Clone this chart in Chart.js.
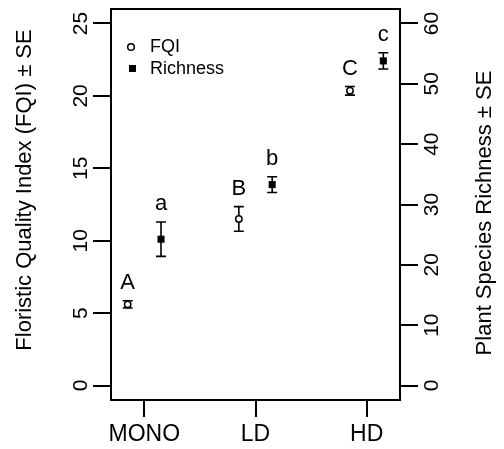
<!DOCTYPE html>
<html>
<head>
<meta charset="utf-8">
<script src="https://cdn.jsdelivr.net/npm/chart.js@4"></script>
<style>
	html, body { margin: 0; padding: 0; background: #fff; }
	#wrap { width: 504px; height: 449px; position: relative; }
</style>
</head>
<body>
<div id="wrap"><canvas id="chart"></canvas></div>
<script>
const categories = ['MONO', 'LD', 'HD']
const fqiMean = [5.6, 11.5, 20.35]
const fqiSE = [0.25, 0.85, 0.3]
const richMean = [24.25, 33.3, 53.8]
const richSE = [2.85, 1.3, 1.35]
const fqiLetters = ['A', 'B', 'C']
const richLetters = ['a', 'b', 'c']
const leftTicks = [0, 5, 10, 15, 20, 25]
const rightTicks = [0, 10, 20, 30, 40, 50, 60]

const FONT = '"Liberation Sans", Arial, Helvetica, sans-serif'
const shift = 0.15

function rotText(ctx, txt, x, y) {
	ctx.save()
	ctx.translate(x, y)
	ctx.rotate(-Math.PI / 2)
	ctx.fillText(txt, 0, 0)
	ctx.restore()
}

// error bars under the points
const errorBars = {
	id: 'errorBars',
	beforeDatasetsDraw(chart) {
		const ctx = chart.ctx
		ctx.save()
		ctx.strokeStyle = '#000'
		ctx.lineWidth = 1.6
		chart.data.datasets.forEach((ds, d) => {
			const meta = chart.getDatasetMeta(d)
			const sc = chart.scales[ds.yAxisID]
			ds.means.forEach((m, i) => {
				const x = meta.data[i].x
				const yt = sc.getPixelForValue(m + ds.se[i])
				const yb = sc.getPixelForValue(m - ds.se[i])
				ctx.beginPath()
				ctx.moveTo(x, yt); ctx.lineTo(x, yb)
				ctx.moveTo(x - 5, yt); ctx.lineTo(x + 5, yt)
				ctx.moveTo(x - 5, yb); ctx.lineTo(x + 5, yb)
				ctx.stroke()
			})
		})
		ctx.restore()
	},
	afterDatasetsDraw(chart) {
		const ctx = chart.ctx
		ctx.save()
		ctx.fillStyle = '#000'
		ctx.font = '22px ' + FONT
		ctx.textAlign = 'center'
		ctx.textBaseline = 'middle'
		chart.data.datasets.forEach((ds, d) => {
			const meta = chart.getDatasetMeta(d)
			const sc = chart.scales[ds.yAxisID]
			ds.letters.forEach((l, i) => {
				const x = meta.data[i].x
				const yt = sc.getPixelForValue(ds.means[i] + ds.se[i])
				ctx.fillText(l, x, yt - 18)
			})
		})
		ctx.restore()
	}
}

// box, rotated tick labels, axis titles, legend
const frame = {
	id: 'frame',
	afterDraw(chart) {
		const { ctx, chartArea: a, scales } = chart
		ctx.save()
		ctx.strokeStyle = '#000'
		ctx.lineWidth = 2
		ctx.strokeRect(a.left, a.top, a.right - a.left, a.bottom - a.top)

		ctx.fillStyle = '#000'
		ctx.textAlign = 'center'
		ctx.textBaseline = 'middle'
		ctx.font = '21px ' + FONT
		leftTicks.forEach(v => rotText(ctx, String(v), a.left - 30, scales.y.getPixelForValue(v)))
		rightTicks.forEach(v => rotText(ctx, String(v), a.right + 32, scales.y2.getPixelForValue(v)))

		ctx.font = '23px ' + FONT
		categories.forEach((c, i) => ctx.fillText(c, scales.x.getPixelForValue(i + 1), a.bottom + 35))

		ctx.font = '22px ' + FONT
		rotText(ctx, 'Floristic Quality Index (FQI) \u00b1 SE', 25, 190)
		rotText(ctx, 'Plant Species Richness \u00b1 SE', a.right + 85, 213)

		// legend
		ctx.textAlign = 'left'
		ctx.font = '18px ' + FONT
		ctx.lineWidth = 1.5
		ctx.beginPath()
		ctx.arc(a.left + 20, a.top + 38, 3.3, 0, Math.PI * 2)
		ctx.stroke()
		ctx.fillRect(a.left + 18, a.top + 56, 7, 7)
		ctx.fillText('FQI', a.left + 39, a.top + 38)
		ctx.fillText('Richness', a.left + 39, a.top + 60)
		ctx.restore()
	}
}

const fixTicks = vals => scale => { scale.ticks = vals.map(v => ({ value: v })) }
const tickGrid = { display: true, drawOnChartArea: false, drawTicks: true, tickLength: 18, color: '#000', lineWidth: 2 }

new Chart(document.getElementById('chart'), {
	type: 'scatter',
	data: {
		datasets: [
			{
				label: 'FQI',
				data: fqiMean.map((v, i) => ({ x: i + 1 - shift, y: v })),
				means: fqiMean, se: fqiSE, letters: fqiLetters,
				yAxisID: 'y',
				pointStyle: 'circle',
				pointRadius: 3.2,
				pointBorderWidth: 1.5,
				borderColor: '#000',
				backgroundColor: '#fff',
			},
			{
				label: 'Richness',
				data: richMean.map((v, i) => ({ x: i + 1 + shift, y: v })),
				means: richMean, se: richSE, letters: richLetters,
				yAxisID: 'y2',
				pointStyle: 'rect',
				pointRadius: 5,
				pointBorderWidth: 0,
				borderColor: '#000',
				backgroundColor: '#000',
			},
		]
	},
	plugins: [errorBars, frame],
	options: {
		responsive: true,
		maintainAspectRatio: false,
		animation: false,
		layout: { padding: { top: 9, left: 0, right: 0, bottom: 0 } },
		scales: {
			x: {
				type: 'linear',
				min: 0.7,
				max: 3.3,
				afterBuildTicks: fixTicks([1, 2, 3]),
				afterFit: s => { s.height = 49 },
				ticks: { display: false },
				grid: { ...tickGrid, tickLength: 17 },
				border: { display: false },
			},
			y: {
				position: 'left',
				min: -1,
				max: 26,
				afterBuildTicks: fixTicks(leftTicks),
				afterFit: s => { s.width = 111 },
				ticks: { display: false },
				grid: tickGrid,
				border: { display: false },
			},
			y2: {
				position: 'right',
				min: -2.4,
				max: 62.4,
				afterBuildTicks: fixTicks(rightTicks),
				afterFit: s => { s.width = 104 },
				ticks: { display: false },
				grid: tickGrid,
				border: { display: false },
			},
		},
		plugins: {
			legend: { display: false },
			tooltip: { enabled: false },
		}
	}
})
</script>
</body>
</html>
